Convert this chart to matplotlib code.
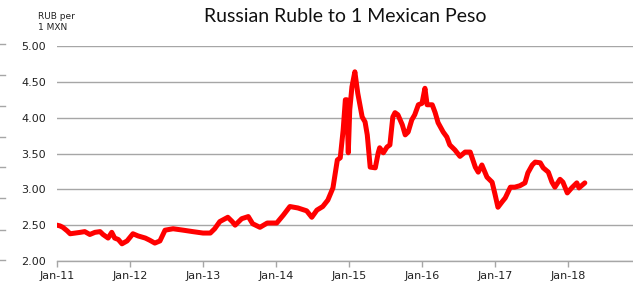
import matplotlib
matplotlib.use("Agg")
import matplotlib.pyplot as plt
from matplotlib.lines import Line2D

years = [2011.00, 2011.04, 2011.08, 2011.14, 2011.18, 2011.25, 2011.32, 2011.38, 2011.45, 2011.52,
         2011.59, 2011.63, 2011.70, 2011.75, 2011.79, 2011.84, 2011.89, 2011.96, 2012.04, 2012.11,
         2012.21, 2012.27, 2012.34, 2012.41, 2012.48, 2012.59, 2012.73, 2012.86, 2013.00, 2013.10,
         2013.16, 2013.23, 2013.34, 2013.40, 2013.44, 2013.53, 2013.62, 2013.68, 2013.78, 2013.88,
         2014.01, 2014.10, 2014.19, 2014.30, 2014.42, 2014.49, 2014.56, 2014.64, 2014.71, 2014.78,
         2014.84, 2014.88, 2014.92, 2014.95, 2014.97, 2014.99, 2015.01, 2015.04, 2015.08, 2015.12,
         2015.18, 2015.22, 2015.25, 2015.26, 2015.29, 2015.36, 2015.40, 2015.42, 2015.47, 2015.52,
         2015.56, 2015.60, 2015.63, 2015.67, 2015.73, 2015.77, 2015.81, 2015.86, 2015.90, 2015.95,
         2016.00, 2016.04, 2016.07, 2016.14, 2016.18, 2016.22, 2016.29, 2016.34, 2016.38, 2016.45,
         2016.52, 2016.59, 2016.66, 2016.73, 2016.77, 2016.82, 2016.89, 2016.96, 2017.00, 2017.04,
         2017.10, 2017.14, 2017.21, 2017.27, 2017.34, 2017.41, 2017.45, 2017.51, 2017.55, 2017.62,
         2017.66, 2017.73, 2017.78, 2017.82, 2017.89, 2017.93, 2017.99, 2018.05, 2018.12, 2018.15,
         2018.23]
rub_per_mxn = [2.50, 2.49, 2.47, 2.42, 2.38, 2.39, 2.40, 2.41, 2.37, 2.40,
               2.41, 2.37, 2.32, 2.40, 2.32, 2.30, 2.24, 2.28, 2.38, 2.35,
               2.32, 2.29, 2.25, 2.28, 2.43, 2.45, 2.43, 2.41, 2.39, 2.39,
               2.45, 2.55, 2.61, 2.55, 2.50, 2.59, 2.62, 2.52, 2.47, 2.53,
               2.53, 2.64, 2.76, 2.74, 2.70, 2.61, 2.71, 2.76, 2.85, 3.02,
               3.41, 3.44, 3.83, 4.25, 4.25, 3.51, 4.11, 4.43, 4.64, 4.34,
               4.01, 3.94, 3.76, 3.65, 3.31, 3.30, 3.51, 3.58, 3.51, 3.59,
               3.62, 4.01, 4.07, 4.04, 3.90, 3.76, 3.80, 3.97, 4.04, 4.18,
               4.20, 4.41, 4.18, 4.18, 4.07, 3.93, 3.80, 3.73, 3.62, 3.55,
               3.46, 3.52, 3.52, 3.31, 3.24, 3.34, 3.17, 3.10, 2.93, 2.75,
               2.83, 2.88, 3.03, 3.03, 3.05, 3.09, 3.23, 3.34, 3.38, 3.37,
               3.30, 3.24, 3.10, 3.03, 3.14, 3.10, 2.95, 3.02, 3.09, 3.02,
               3.09]

tick_years = [2011, 2012, 2013, 2014, 2015, 2016, 2017, 2018]
tick_labels = ["Jan-11", "Jan-12", "Jan-13", "Jan-14", "Jan-15", "Jan-16", "Jan-17", "Jan-18"]
y_ticks = [2.00, 2.50, 3.00, 3.50, 4.00, 4.50, 5.00]

plt.rcParams['font.family'] = ['DejaVu Sans']

W, H = 633, 287
fig = plt.figure(figsize=(W / 100, H / 100), dpi=100)
ax = fig.add_axes([57 / W, 1 - 261 / H, 1 - 57 / W, (261 - 46) / H])

grid_c = '#a6a6a6'
ax.plot(years, rub_per_mxn, color='#ff0000', lw=3.6, solid_joinstyle='round',
        solid_capstyle='round', zorder=3)

ax.set_xlim(2011, 2018.89)
ax.set_ylim(2.0, 5.0)
ax.set_yticks(y_ticks)
ax.set_yticklabels([f"{v:.2f}" for v in y_ticks])
ax.set_xticks(tick_years)
ax.set_xticklabels(tick_labels)
ax.yaxis.grid(True, color=grid_c, lw=1.0)
ax.set_axisbelow(True)
for s in ['top', 'right', 'left']:
    ax.spines[s].set_visible(False)
ax.spines['bottom'].set_color(grid_c)
ax.spines['bottom'].set_linewidth(1.0)
ax.tick_params(axis='y', length=0, pad=8, labelsize=8, labelcolor='#222222')
ax.tick_params(axis='x', length=4, color=grid_c, width=1, pad=3, labelsize=8,
               labelcolor='#222222')

fig.text((57 + W) / 2 / W, 1 - 16 / H, "Russian Ruble to 1 Mexican Peso",
         ha='center', va='center', fontsize=14, color='#111111', family='Lato')
fig.text(38 / W, 1 - 22 / H, "RUB per\n1 MXN", ha='left', va='center',
         fontsize=6.5, color='#222222', linespacing=1.25)

# faint dashes at the left edge
for yp in [44, 75, 106, 137, 167, 198, 230, 260]:
    fig.add_artist(Line2D([0, 5 / W], [1 - yp / H, 1 - yp / H], color=grid_c, lw=1.0))

fig.savefig("out.png", dpi=100)
